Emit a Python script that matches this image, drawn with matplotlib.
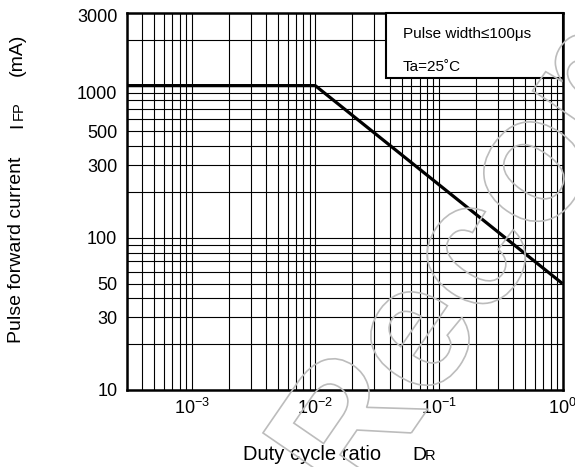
import matplotlib
matplotlib.use("Agg")
import matplotlib.pyplot as plt
from matplotlib import patheffects
from matplotlib.patches import Rectangle
from matplotlib.ticker import NullFormatter
from matplotlib.transforms import ScaledTranslation

plt.rcParams['font.family'] = ['Liberation Sans', 'DejaVu Sans']
plt.rcParams['mathtext.fontset'] = 'custom'
plt.rcParams['mathtext.rm'] = 'Liberation Sans'
plt.rcParams['mathtext.it'] = 'Liberation Sans:italic'

# duty cycle ratio vs allowed pulse forward current (mA)
duty = [3e-4, 1e-2, 1.0]
ifp = [1000, 1000, 50]

x_ticks = [1e-3, 1e-2, 1e-1, 1e0]
x_labels = [r'$\mathregular{10^{-3}}$', r'$\mathregular{10^{-2}}$',
            r'$\mathregular{10^{-1}}$', r'$\mathregular{10^{0}}$']
y_ticks = [10, 30, 50, 100, 300, 500, 1000, 3000]
y_labels = [str(v) for v in y_ticks]

W, H = 575, 467
fig = plt.figure(figsize=(W / 100, H / 100), dpi=100)
ax = fig.add_axes([127 / W, 1 - 390 / H, (562.5 - 127) / W, (390 - 13) / H])
ax.set_xscale('log')
ax.set_yscale('log')
ax.set_xlim(3e-4, 1)
ax.set_ylim(10, 3000)

ax.grid(which='both', color='black', lw=0.8)
ax.set_xticks(x_ticks)
ax.set_xticklabels(x_labels)
ax.set_yticks(y_ticks)
ax.set_yticklabels(y_labels)
ax.xaxis.set_minor_formatter(NullFormatter())
ax.yaxis.set_minor_formatter(NullFormatter())
ax.tick_params(which='both', length=0, labelsize=13)
ax.tick_params(axis='y', pad=7)
ax.tick_params(axis='x', pad=6)
for s in ax.spines.values():
    s.set_linewidth(1.8)

# the top two labels sit a little lower in the original
for lab in ax.get_yticklabels():
    shift = {'1000': 7, '3000': 3}.get(lab.get_text(), 0)
    if shift:
        lab.set_transform(lab.get_transform()
                          + ScaledTranslation(0, -shift / 100, fig.dpi_scale_trans))

ax.plot(duty, ifp, color='black', lw=2.3, zorder=5, clip_on=False,
        solid_capstyle='butt')

# condition box in upper right
box = Rectangle((386 / W, 1 - 78 / H), (562.5 - 386) / W, (78 - 13) / H,
                transform=fig.transFigure, facecolor='white',
                edgecolor='black', lw=1.5, zorder=6)
fig.patches.append(box)
fig.text(403 / W, 1 - 34 / H, 'Pulse width≤100μs', fontsize=11,
         va='center', ha='left', zorder=7)
fig.text(403 / W, 1 - 67 / H, 'Ta=25˚C', fontsize=11,
         va='center', ha='left', zorder=7)

# axis labels
fig.text(243 / W, 1 - 460 / H, 'Duty cycle ratio', fontsize=14.5,
         ha='left', va='baseline')
fig.text(412 / W, 1 - 460 / H, 'D', fontsize=14, ha='left', va='baseline')
fig.text(425 / W, 1 - 460 / H, 'R', fontsize=10.5, ha='left', va='baseline')
fig.text(17 / W, 1 - 250 / H, 'Pulse forward current', fontsize=14,
         rotation=90, ha='center', va='center')
fig.text(18 / W, 1 - 125 / H, 'I', fontsize=14, rotation=90,
         ha='center', va='center')
fig.text(19 / W, 1 - 111 / H, 'FP', fontsize=10.5, rotation=90,
         ha='center', va='center')
fig.text(17 / W, 1 - 55 / H, '(mA)', fontsize=14, rotation=90,
         ha='center', va='center')

# faint outlined watermark
fig.text(357 / W, 1 - 512 / H, 'Recommended', fontsize=128, rotation=55.5,
         fontweight='bold', rotation_mode='anchor', ha='left',
         va='baseline', zorder=10,
         path_effects=[patheffects.PathPatchEffect(
             edgecolor='#bcbcbc', facecolor='none', linewidth=1.2)])

fig.savefig('out.png', dpi=100)
